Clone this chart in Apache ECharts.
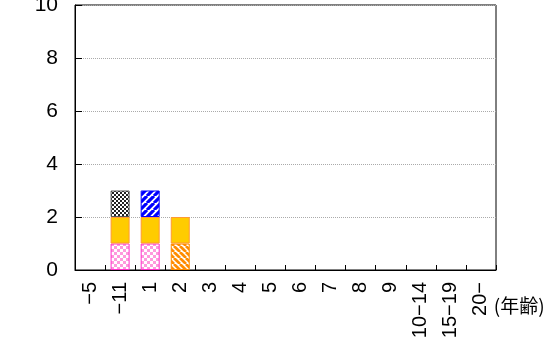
<!DOCTYPE html>
<html><head><meta charset="utf-8">
<script src="https://cdn.jsdelivr.net/npm/echarts@6/dist/echarts.min.js"></script>
<style>html,body{margin:0;padding:0;background:#fff}#c{width:548px;height:342px}</style>
</head><body><div id="c"></div>
<script>
var categories = ['−5','−11','1','2','3','4','5','6','7','8','9','10−14','15−19','20−'];
var pinkCheck   = [0,1,1,0,0,0,0,0,0,0,0,0,0,0];
var orangeDiag  = [0,0,0,1,0,0,0,0,0,0,0,0,0,0];
var goldSolid   = [0,1,1,1,0,0,0,0,0,0,0,0,0,0];
var blackCheck  = [0,1,0,0,0,0,0,0,0,0,0,0,0,0];
var blueDiag    = [0,0,1,0,0,0,0,0,0,0,0,0,0,0];
var yTicks = [0,2,4,6,8,10];
var axisName = '(年齢)';

function checker(c1, c2, s){
  var cv = document.createElement('canvas'); cv.width = s*2; cv.height = s*2;
  var g = cv.getContext('2d');
  g.fillStyle = c2; g.fillRect(0,0,s*2,s*2);
  g.fillStyle = c1; g.fillRect(0,0,s,s); g.fillRect(s,s,s,s);
  return {image: cv, repeat: 'repeat'};
}
function diag(col, p, dir){
  var cv = document.createElement('canvas'); cv.width = p; cv.height = p;
  var g = cv.getContext('2d');
  g.fillStyle = '#fff'; g.fillRect(0,0,p,p);
  g.strokeStyle = col; g.lineWidth = p*0.45;
  g.beginPath();
  for (var k=-1;k<=1;k++){
    if (dir>0){ g.moveTo(k*p, p); g.lineTo(k*p+p, 0); }
    else { g.moveTo(k*p, 0); g.lineTo(k*p+p, p); }
  }
  g.stroke();
  return {image: cv, repeat: 'repeat'};
}
function mk(name, data, color, border){
  return {name:name, type:'bar', stack:'s',
    data:data.map(function(v){ return v === 0 ? null : v; }), barWidth:19,
    itemStyle:{color:color, borderColor:border, borderWidth:1}, animation:false};
}
var chart = echarts.init(document.getElementById('c'));
chart.setOption({
  animation:false,
  grid:{left:75, right:52, top:5, bottom:72, show:true, borderColor:'#000', borderWidth:1,
        containLabel:false, outerBoundsMode:'none'},
  xAxis:{type:'category', data:categories,
    axisLine:{lineStyle:{color:'#000'}},
    axisTick:{show:true, inside:true, length:5, lineStyle:{color:'#000'}},
    axisLabel:{rotate:90, interval:0, margin:12, color:'#000', fontSize:20, fontFamily:'Liberation Sans, Arial, sans-serif'},
    name:axisName, nameLocation:'end', nameGap:-6,
    nameTextStyle:{color:'#000', fontSize:19, verticalAlign:'top', align:'left', padding:[26,0,0,0], fontFamily:'Noto Sans CJK JP, sans-serif'}
  },
  yAxis:{type:'value', min:0, max:10, interval:2,
    axisLine:{show:true, lineStyle:{color:'#000'}},
    axisTick:{show:true, inside:true, length:7, lineStyle:{color:'#000'}},
    axisLabel:{color:'#000', fontSize:21, margin:17, fontFamily:'Liberation Sans Narrow, Liberation Sans, sans-serif'},
    splitLine:{show:true, lineStyle:{color:'#aaa', type:'dotted'}}
  },
  series:[
    mk('a', pinkCheck, checker('#ff99dd','#ffffff',3), '#ff33cc'),
    mk('b', orangeDiag, diag('#ff8c00',6,-1), '#ff8c00'),
    mk('c', goldSolid, '#ffcc00', '#ff9933'),
    mk('d', blackCheck, checker('#222222','#ffffff',2), '#555555'),
    mk('e', blueDiag, diag('#0000ff',7,1), '#0000ff')
  ]
});
</script></body></html>
